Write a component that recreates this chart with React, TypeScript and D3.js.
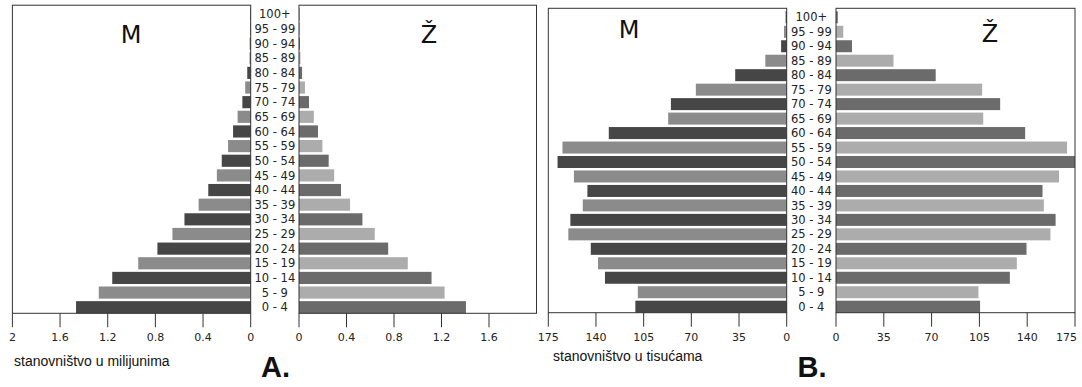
import React from "react";
import * as d3 from "d3";

// dobne skupine, od najmlađe prema najstarijoj
const ageGroups = [
  "0 - 4", "5 - 9", "10 - 14", "15 - 19", "20 - 24", "25 - 29", "30 - 34",
  "35 - 39", "40 - 44", "45 - 49", "50 - 54", "55 - 59", "60 - 64", "65 - 69",
  "70 - 74", "75 - 79", "80 - 84", "85 - 89", "90 - 94", "95 - 99", "100+",
];

// A. stanovništvo u milijunima
const maleA = [
  1.466, 1.275, 1.162, 0.944, 0.783, 0.657, 0.556, 0.437, 0.356, 0.284, 0.243,
  0.19, 0.148, 0.11, 0.07, 0.046, 0.029, 0.01, 0.008, 0.006, 0.004,
];
const femaleA = [
  1.406, 1.226, 1.116, 0.916, 0.751, 0.638, 0.534, 0.43, 0.354, 0.296, 0.25,
  0.197, 0.16, 0.125, 0.084, 0.05, 0.026, 0.012, 0.008, 0.006, 0.004,
];

// B. stanovništvo u tisućama
const maleB = [
  111.1, 109.3, 133.4, 138.5, 143.8, 160.3, 158.8, 149.7, 146.3, 156.2, 168.2,
  164.6, 130.6, 87, 85, 66.7, 37.8, 15.7, 4.1, 2.0, 0.8,
];
const femaleB = [
  105.5, 104.3, 127.3, 132.4, 139.5, 157, 160.8, 152.2, 151.2, 163.3, 176,
  169.2, 138.5, 107.8, 120.2, 107, 73, 42.1, 11.7, 5.3, 1.3,
];

const ticksALeft = [0, 0.4, 0.8, 1.2, 1.6, 2];
const ticksARight = [0, 0.4, 0.8, 1.2, 1.6];
const ticksB = [0, 35, 70, 105, 140, 175];

const maleColors = ["#464646", "#8b8b8b"];
const femaleColors = ["#6b6b6b", "#acacac"];
const frameColor = "#333";
const tickFont = "'DejaVu Sans', sans-serif";
const W = 1082;

type PyramidProps = {
  left: number;
  zeroL: number;
  zeroR: number;
  right: number;
  top: number;
  bottom: number;
  max: number;
  male: number[];
  female: number[];
  ticksL: number[];
  ticksR: number[];
  mX: number;
  mY: number;
  zX: number;
  zY: number;
  unitLabel: string;
  unitX: number;
  unitY: number;
  letter: string;
  letterX: number;
};

const Pyramid = (p: PyramidProps) => {
  const y = d3
    .scaleBand<string>()
    .domain(ageGroups)
    .range([p.bottom, p.top + 3])
    .paddingInner(0.17)
    .paddingOuter(0);
  const xl = d3.scaleLinear().domain([0, p.max]).range([p.zeroL, p.left]);
  const xr = d3.scaleLinear().domain([0, p.max]).range([p.zeroR, p.right]);
  const mid = (p.zeroL + p.zeroR) / 2;
  const fmt = (d: number) => String(d);

  const tick = (t: number, x: number, key: string) => {
    // zadnja oznaka uz rub slike pomakne se ulijevo
    const edge = x + 12 > W;
    return (
      <g key={key} transform={`translate(${x},${p.bottom})`}>
        <line y2={14} stroke={frameColor} />
        <text
          x={edge ? W - 5 - x : 0}
          y={24}
          dy="0.36em"
          textAnchor={edge ? "end" : "middle"}
          fontFamily={tickFont}
          fontSize={11}
          fill="#222"
        >
          {fmt(t)}
        </text>
      </g>
    );
  };

  return (
    <g>
      {ageGroups.map((g, i) => {
        const m = Math.min(p.male[i], p.max);
        const f = Math.min(p.female[i], p.max);
        return (
          <g key={g}>
            <rect
              x={xl(m)}
              y={y(g)}
              width={p.zeroL - xl(m)}
              height={y.bandwidth()}
              fill={maleColors[i % 2]}
            />
            <rect
              x={p.zeroR}
              y={y(g)}
              width={xr(f) - p.zeroR}
              height={y.bandwidth()}
              fill={femaleColors[i % 2]}
            />
            <text
              x={mid}
              y={(y(g) ?? 0) + y.bandwidth() / 2}
              dy="0.36em"
              textAnchor="middle"
              fontFamily={tickFont}
              fontSize={11.5}
              fill="#222"
            >
              {g}
            </text>
          </g>
        );
      })}

      <rect x={p.left} y={p.top} width={p.zeroL - p.left} height={p.bottom - p.top}
        fill="none" stroke={frameColor} strokeWidth={1} />
      <rect x={p.zeroR} y={p.top} width={p.right - p.zeroR} height={p.bottom - p.top}
        fill="none" stroke={frameColor} strokeWidth={1} />

      {p.ticksL.map((t) => tick(t, xl(t), "l" + t))}
      {p.ticksR.map((t) => tick(t, xr(t), "r" + t))}

      <text x={p.mX} y={p.mY} textAnchor="middle" fontFamily={tickFont} fontSize={24} fill="#111">M</text>
      <text x={p.zX} y={p.zY} textAnchor="middle" fontFamily={tickFont} fontSize={24} fill="#111">Ž</text>

      <text x={p.unitX} y={p.unitY} fontFamily="'Liberation Sans', Arial, sans-serif"
        fontSize={14} fill="#111">{p.unitLabel}</text>
      <text x={p.letterX} y={377} fontFamily="'Liberation Sans', Arial, sans-serif"
        fontSize={29} fontWeight="bold" fill="#111">{p.letter}</text>
    </g>
  );
};

export default function App() {
  return (
    <svg
      width={W}
      height={387}
      style={{ position: "absolute", left: 0, top: 0, background: "#fff" }}
    >
      <Pyramid
        left={12.4} zeroL={250.7} zeroR={299} right={536.5}
        top={5.2} bottom={313.3} max={2}
        male={maleA} female={femaleA}
        ticksL={ticksALeft} ticksR={ticksARight}
        mX={131} mY={43} zX={429} zY={43}
        unitLabel="stanovništvo u milijunima" unitX={14} unitY={366}
        letter="A." letterX={261}
      />
      <Pyramid
        left={548.3} zeroL={786.7} zeroR={836} right={1075}
        top={8.3} bottom={312.7} max={175}
        male={maleB} female={femaleB}
        ticksL={ticksB} ticksR={ticksB}
        mX={629} mY={37.5} zX={990} zY={41.5}
        unitLabel="stanovništvo u tisućama" unitX={553} unitY={361}
        letter="B." letterX={797.5}
      />
    </svg>
  );
}
